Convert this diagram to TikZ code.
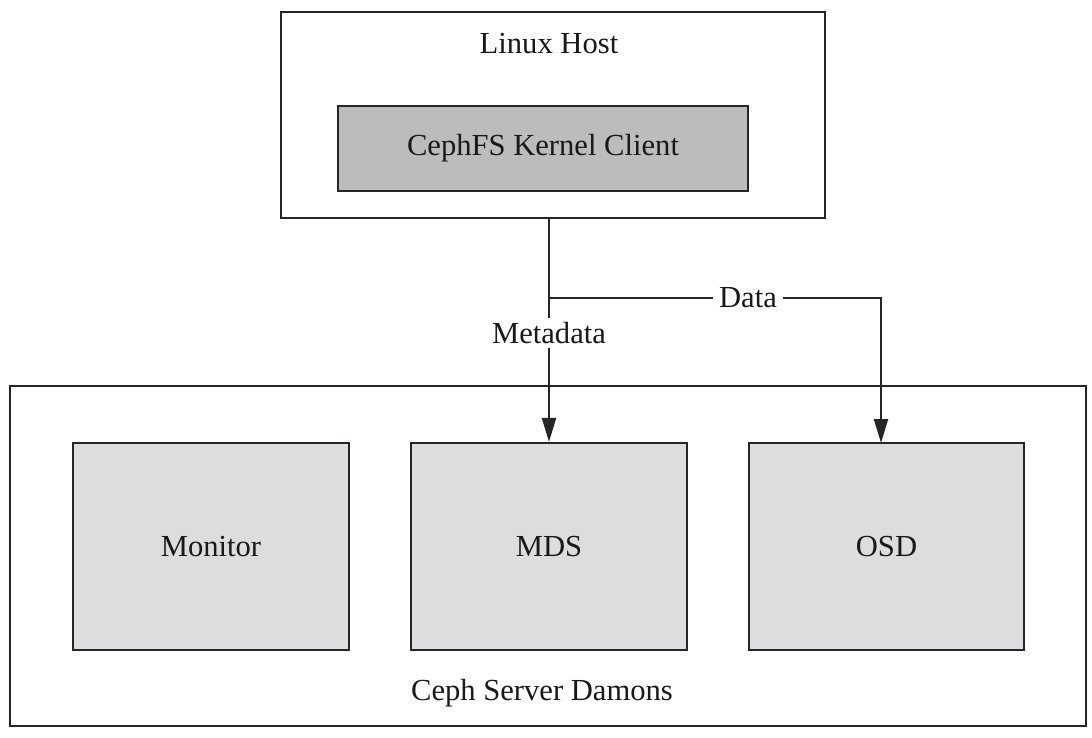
\documentclass[tikz,border=0pt]{standalone}
\usepackage{fontspec}
\setmainfont{Liberation Serif}
\usetikzlibrary{arrows.meta,calc}
\begin{document}
\begin{tikzpicture}[x=1pt,y=-1pt,
  box/.style={draw=black!85,line width=2.3pt,rectangle,inner sep=0pt},
  client/.style={box,fill=clientgray},
  daemon/.style={box,fill=daemongray},
  lbl/.style={font=\fontsize{30.6}{36}\selectfont,text=black!90},
  wire/.style={line width=2.3pt,draw=black!85},
  arr/.style={wire,-{Triangle[width=14pt,length=24pt]}},
  tag/.style={lbl,fill=white,inner sep=6pt}]
\definecolor{clientgray}{HTML}{BBBCBE}
\definecolor{daemongray}{HTML}{DCDDDF}
\useasboundingbox (0,0) rectangle (1092,737);
\fill[white] (0,0) rectangle (1092,737);
% Linux host
\node[box,minimum width=544pt,minimum height=206pt] (host) at (553,115) {};
\node[lbl] (hostlbl) at (549,44) {Linux Host};
\node[client,minimum width=410pt,minimum height=85pt,lbl] (client) at (543,148.5) {CephFS Kernel Client};
% server
\node[box,minimum width=1076pt,minimum height=340pt] (server) at (548,556) {};
\node[lbl] (serverlbl) at (542,693) {Ceph Server Damons};
\node[daemon,lbl,minimum width=276pt,minimum height=207pt] (monitor) at (211,546.5) {Monitor};
\node[daemon,lbl,minimum width=276pt,minimum height=207pt] (mds) at (549,546.5) {MDS};
\node[daemon,lbl,minimum width=275pt,minimum height=207pt] (osd) at (886.5,546.5) {OSD};
% connectors
\coordinate (src) at (mds.north |- host.south);
\coordinate (j) at (549,298);
\coordinate (osdin) at (881,443);
\draw[arr] (src) -- (mds.north);
\draw[arr] (j) -- (j -| osdin) -- (osdin);
\node[tag] (data) at (748,298) {Data};
\node[tag,inner sep=4pt] (meta) at (549,333) {Metadata};
\end{tikzpicture}
\end{document}
